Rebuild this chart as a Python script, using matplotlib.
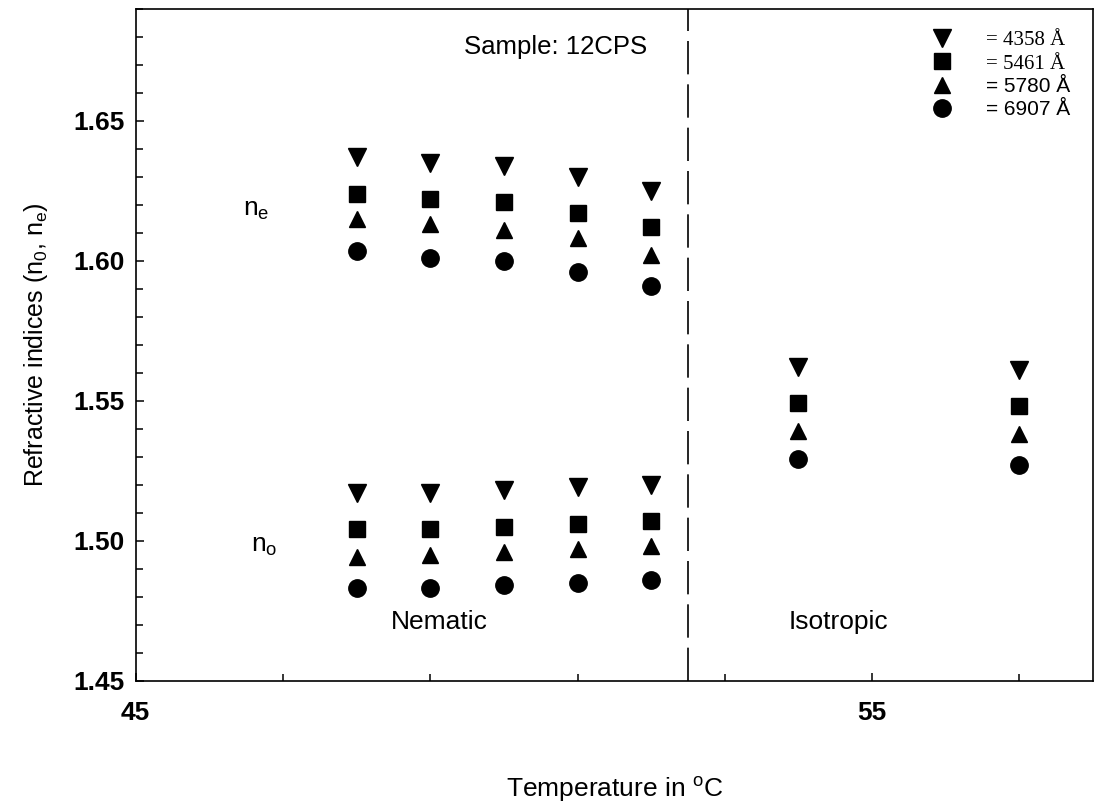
import matplotlib
matplotlib.use("Agg")
import matplotlib.pyplot as plt
from matplotlib.ticker import MultipleLocator, FixedLocator

plt.rcParams['font.family'] = ['Liberation Sans', 'DejaVu Sans']
plt.rcParams['mathtext.fontset'] = 'custom'
plt.rcParams['mathtext.rm'] = 'Liberation Sans'
plt.rcParams['mathtext.it'] = 'Liberation Sans'

# ---- data ----
T_nematic = [48, 49, 50, 51, 52]
T_isotropic = [54, 57]

ne_4358 = [1.637, 1.635, 1.634, 1.630, 1.625]
ne_5461 = [1.624, 1.622, 1.621, 1.617, 1.612]
ne_5780 = [1.615, 1.613, 1.611, 1.608, 1.602]
ne_6907 = [1.6035, 1.601, 1.600, 1.596, 1.591]

no_4358 = [1.517, 1.517, 1.518, 1.519, 1.520]
no_5461 = [1.504, 1.504, 1.505, 1.506, 1.507]
no_5780 = [1.494, 1.495, 1.496, 1.497, 1.498]
no_6907 = [1.483, 1.483, 1.484, 1.485, 1.486]

iso_4358 = [1.562, 1.561]
iso_5461 = [1.549, 1.548]
iso_5780 = [1.539, 1.538]
iso_6907 = [1.529, 1.527]

wavelength_labels = ["= 4358 Å", "= 5461 Å", "= 5780 Å", "= 6907 Å"]
transition_T = 52.5

fig = plt.figure(figsize=(11.05, 8.11), dpi=100)
ax = fig.add_axes([0.1228, 0.1609, 0.8663, 0.8281])

markers = ['v', 's', '^', 'o']
sizes = [12.5, 11.5, 12, 12.5]
series = [
    (ne_4358, no_4358, iso_4358),
    (ne_5461, no_5461, iso_5461),
    (ne_5780, no_5780, iso_5780),
    (ne_6907, no_6907, iso_6907),
]
handles = []
for (ne, no, iso), m, ms, lab in zip(series, markers, sizes, wavelength_labels):
    h, = ax.plot(T_nematic, ne, linestyle='none', marker=m, ms=ms, color='black', label=lab)
    ax.plot(T_nematic, no, linestyle='none', marker=m, ms=ms, color='black')
    ax.plot(T_isotropic, iso, linestyle='none', marker=m, ms=ms, color='black')
    handles.append(h)

ax.axvline(transition_T, color='black', lw=1.2, dashes=(20, 6))

ax.set_xlim(45, 58)
ax.set_ylim(1.45, 1.69)
ax.xaxis.set_major_locator(FixedLocator([45, 55]))
ax.xaxis.set_minor_locator(FixedLocator([47, 49, 51, 53, 57]))
ax.yaxis.set_major_locator(MultipleLocator(0.05))
ax.yaxis.set_minor_locator(MultipleLocator(0.01))
ax.yaxis.set_major_formatter(plt.FuncFormatter(lambda v, p: f"{v:.2f}"))
ax.tick_params(axis='both', which='both', direction='in', right=False, top=False)
ax.tick_params(axis='both', which='major', length=6, width=1.1, labelsize=19)
ax.tick_params(axis='both', which='minor', length=5, width=1.1)
ax.tick_params(axis='x', which='major', pad=15)
ax.tick_params(axis='y', which='major', pad=8)
for lbl in ax.get_xticklabels() + ax.get_yticklabels():
    lbl.set_fontweight('bold')
for s in ax.spines.values():
    s.set_linewidth(1.2)

ax.set_xlabel(r"Temperature in $^\mathregular{o}$C", fontsize=19, labelpad=36)
ax.set_ylabel(r"Refractive indices (n$_\mathregular{0}$, n$_\mathregular{e}$)", fontsize=18, labelpad=17)

ax.text(50.7, 1.6765, "Sample: 12CPS", fontsize=18.5, ha='center', va='center')
ax.text(49.12, 1.471, "Nematic", fontsize=19, ha='center', va='center')
ax.text(54.55, 1.471, "Isotropic", fontsize=19, ha='center', va='center')
ax.text(46.63, 1.618, r"n$_\mathregular{e}$", fontsize=19, ha='center', va='center')
ax.text(46.75, 1.498, r"n$_\mathregular{o}$", fontsize=19, ha='center', va='center')

leg = ax.legend(handles=handles, loc='upper right', bbox_to_anchor=(0.985, 0.98),
                frameon=False, fontsize=15, handletextpad=1.6, labelspacing=0.18,
                handlelength=1.0, borderaxespad=0)
for t, fam in zip(leg.get_texts(), ['Liberation Serif', 'Liberation Serif', 'Liberation Sans', 'Liberation Sans']):
    t.set_family(fam)

fig.savefig("out.png", dpi=100)
